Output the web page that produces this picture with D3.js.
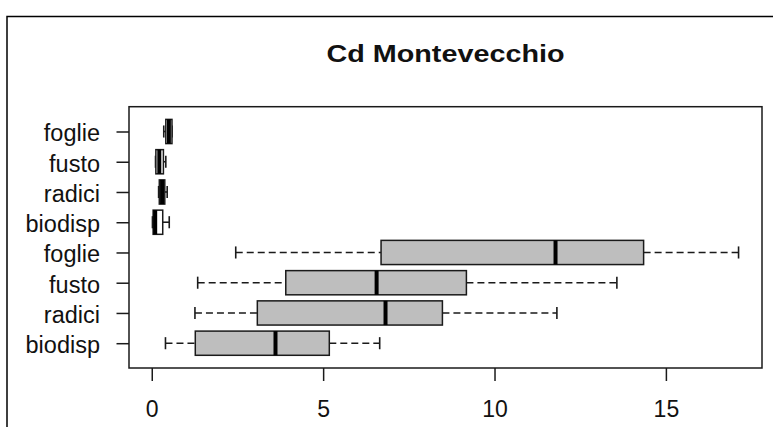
<!DOCTYPE html>
<html><head><meta charset="utf-8">
<script src="https://cdn.jsdelivr.net/npm/d3@7"></script>
<style>body{margin:0;background:#fff}svg{display:block}text{font-family:"Liberation Sans",Arial,sans-serif;fill:#111}</style>
</head><body>
<svg id="c" width="773" height="427"></svg>
<script>
// Data (positions 1..8, bottom to top)
const labels   = ["biodisp","radici","fusto","foglie","biodisp","radici","fusto","foglie"];
const fills    = ["#bebebe","#bebebe","#bebebe","#bebebe","#ffffff","#ffffff","#ffffff","#ffffff"];
const whiskLo  = [0.40, 1.26, 1.34, 2.45, 0.02, 0.20, 0.11, 0.35];
const q1       = [1.27, 3.08, 3.91, 6.69, 0.04, 0.22, 0.12, 0.41];
const medians  = [3.61, 6.82, 6.56, 11.78, 0.10, 0.30, 0.22, 0.50];
const q3       = [5.18, 8.48, 9.18, 14.35, 0.32, 0.38, 0.34, 0.59];
const whiskHi  = [6.65, 11.82, 13.57, 17.12, 0.51, 0.45, 0.41, 0.59];
const xTicks   = [0, 5, 10, 15];
const title    = "Cd Montevecchio";

const svg = d3.select("#c");
const L = 129, R = 762, T = 106.7, B = 368;
const lo = d3.min(whiskLo), hi = d3.max(whiskHi), pad = (hi - lo) * 0.04;
const x = d3.scaleLinear().domain([lo - pad, hi + pad]).range([L, R]);
const n = labels.length;
const ypad = n * 0.04;
const y = d3.scaleLinear().domain([0.5 - ypad, n + 0.5 + ypad]).range([B, T]);
const bw = (y(0) - y(1)) * 0.8;
const ink = "#1a1a1a";

// outer frame
svg.append("path").attr("d", "M7,427 V16.5 H773").attr("fill","none").attr("stroke","#000").attr("stroke-width",1.5);

// title
svg.append("text").attr("x", (L + R) / 2).attr("y", 61.5).attr("text-anchor","middle")
  .attr("textLength", 238).attr("lengthAdjust","spacingAndGlyphs")
  .style("font-weight","bold").style("font-size","24px").text(title);

const rows = d3.range(n).map(i => ({i, pos: i + 1}));
const g = svg.append("g");
rows.forEach(d => {
  const i = d.i, cy = y(d.pos);
  [[whiskLo[i], q1[i]], [q3[i], whiskHi[i]]].forEach(([a, b]) => {
    g.append("line").attr("x1", x(a)).attr("x2", x(b)).attr("y1", cy).attr("y2", cy)
      .attr("stroke",ink).attr("stroke-width",1.6).attr("stroke-dasharray","7,4");
  });
  [whiskLo[i], whiskHi[i]].forEach(v => {
    g.append("line").attr("x1", x(v)).attr("x2", x(v)).attr("y1", cy - bw / 4).attr("y2", cy + bw / 4)
      .attr("stroke",ink).attr("stroke-width",1.6);
  });
  g.append("rect").attr("x", x(q1[i])).attr("y", cy - bw / 2).attr("width", x(q3[i]) - x(q1[i])).attr("height", bw)
    .attr("fill", fills[i]).attr("stroke",ink).attr("stroke-width",1.5);
  g.append("line").attr("x1", x(medians[i])).attr("x2", x(medians[i])).attr("y1", cy - bw / 2).attr("y2", cy + bw / 2)
    .attr("stroke","#000").attr("stroke-width",4);
});

// plot box
svg.append("rect").attr("x", L).attr("y", T).attr("width", R - L).attr("height", B - T)
  .attr("fill","none").attr("stroke",ink).attr("stroke-width",1.5);

// x axis
const xa = svg.append("g").attr("transform", `translate(0,${B})`)
  .call(d3.axisBottom(x).tickValues(xTicks).tickSize(13).tickPadding(0).tickFormat(d3.format("d")));
xa.select(".domain").remove();
xa.selectAll("line").attr("stroke",ink).attr("stroke-width",1.5);
xa.selectAll("text").attr("y", 48.5).attr("dy", null).style("font-size","23px").attr("fill","#111");

// y axis
const ya = svg.append("g").attr("transform", `translate(${L},0)`)
  .call(d3.axisLeft(y).tickValues(d3.range(1, n + 1)).tickSize(12.5).tickPadding(0).tickFormat(d => labels[d - 1]));
ya.select(".domain").remove();
ya.selectAll("line").attr("stroke",ink).attr("stroke-width",1.5);
ya.selectAll("text").attr("x", -29).attr("dy", null).attr("y", 9.5).style("font-size","23.5px").attr("fill","#111");
</script>
</body></html>
